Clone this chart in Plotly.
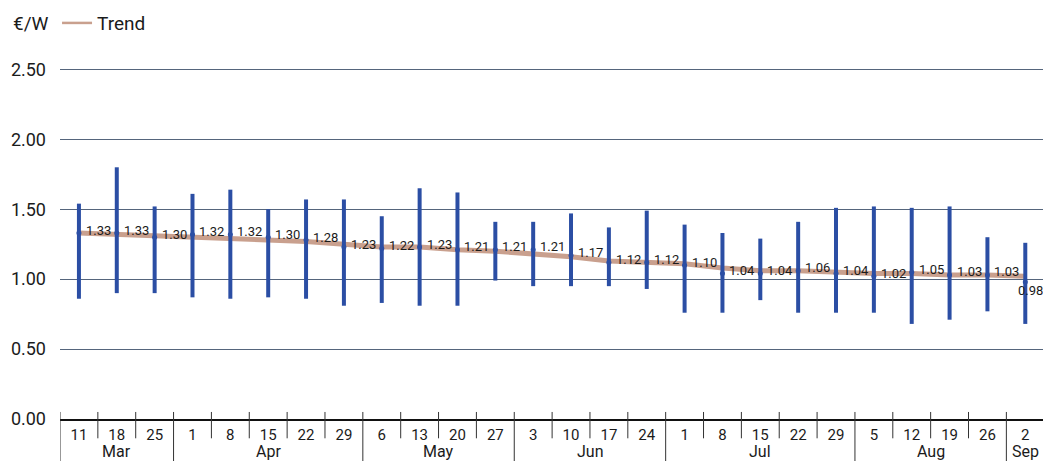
import plotly.graph_objects as go

# ---- data ----
months = ["Mar"] * 3 + ["Apr"] * 5 + ["May"] * 4 + ["Jun"] * 4 + ["Jul"] * 5 + ["Aug"] * 4 + ["Sep"]
days = [11, 18, 25, 1, 8, 15, 22, 29, 6, 13, 20, 27, 3, 10, 17, 24, 1, 8, 15, 22, 29, 5, 12, 19, 26, 2]
avg = [1.33, 1.33, 1.30, 1.32, 1.32, 1.30, 1.28, 1.23, 1.22, 1.23, 1.21, 1.21, 1.21,
       1.17, 1.12, 1.12, 1.10, 1.04, 1.04, 1.06, 1.04, 1.02, 1.05, 1.03, 1.03, 0.98]
high = [1.54, 1.80, 1.52, 1.61, 1.64, 1.50, 1.57, 1.57, 1.45, 1.65, 1.62, 1.41, 1.41,
        1.47, 1.37, 1.49, 1.39, 1.33, 1.29, 1.41, 1.51, 1.52, 1.51, 1.52, 1.30, 1.26]
low = [0.86, 0.90, 0.90, 0.87, 0.86, 0.87, 0.86, 0.81, 0.83, 0.81, 0.81, 0.99, 0.95,
       0.95, 0.95, 0.93, 0.76, 0.76, 0.85, 0.76, 0.76, 0.76, 0.68, 0.71, 0.77, 0.68]
trend = [1.33, 1.32, 1.31, 1.30, 1.29, 1.28, 1.27, 1.25, 1.23, 1.23, 1.21, 1.20, 1.18,
         1.16, 1.13, 1.12, 1.11, 1.08, 1.06, 1.06, 1.05, 1.04, 1.04, 1.03, 1.03, 1.02]
y_ticks = [0, 0.5, 1.0, 1.5, 2.0, 2.5]

# ---- styling ----
FONT = "Roboto, Liberation Sans, sans-serif"
BLUE = "#2b4ea4"
TREND = "#c9a08e"
GRID = "#55657c"
TXT = "#1b1b1b"

cats = [f"{m} {d}" for m, d in zip(months, days)]

fig = go.Figure()

# trend line (drawn first so the range bars sit over it)
fig.add_trace(go.Scatter(x=cats, y=trend, mode="lines",
                         line=dict(color=TREND, width=5), showlegend=False,
                         hoverinfo="skip"))
# legend entry (thin line as in the key)
fig.add_trace(go.Scatter(x=[cats[0]], y=[None], mode="lines", name="Trend",
                         line=dict(color=TREND, width=2.5), showlegend=True))
# range bars
fig.add_trace(go.Scatter(
    x=cats, y=low, mode="markers", marker=dict(size=1, color=BLUE, opacity=0),
    error_y=dict(type="data", symmetric=False,
                 array=[h - l for h, l in zip(high, low)],
                 arrayminus=[0] * len(low), color=BLUE, thickness=4, width=0),
    showlegend=False))
# mean dots
fig.add_trace(go.Scatter(x=cats, y=avg, mode="markers",
                         marker=dict(size=5, color=BLUE), showlegend=False))

annotations = []
n = len(cats)
for i, (c, v) in enumerate(zip(cats, avg)):
    last = i == n - 1
    annotations.append(dict(
        x=c, y=v, xref="x", yref="y", text=f"{v:.2f}", showarrow=False,
        xanchor="left", yanchor="middle",
        xshift=-9 if last else 5, yshift=-9 if last else 3,
        font=dict(family=FONT, size=13, color=TXT)))

# month labels
groups = []
for i, m in enumerate(months):
    if not groups or groups[-1][0] != m:
        groups.append([m, i, i])
    else:
        groups[-1][2] = i
for m, a, b in groups:
    annotations.append(dict(x=(a + b) / 2, y=-0.092, xref="x", yref="paper", text=m,
                            showarrow=False, xanchor="center", yanchor="middle",
                            font=dict(family=FONT, size=16, color=TXT)))

# unit label
annotations.append(dict(x=0, y=1.128, xref="paper", yref="paper", text="€/W",
                        showarrow=False, xanchor="right", xshift=-9, yanchor="middle",
                        font=dict(family=FONT, size=19, color=TXT)))

shapes = []
month_starts = {a for _, a, _ in groups}
for i in range(n):
    bottom = -0.125 if i in month_starts else -0.055
    shapes.append(dict(type="line", xref="x", yref="paper", x0=i - 0.5, x1=i - 0.5,
                       y0=0.02, y1=bottom, line=dict(color="#333333", width=1)))

# the page adds an 8px body margin, so the figure is 8px smaller than the window
fig.update_layout(
    width=1043, height=453,
    margin=dict(l=52, r=3, t=60, b=42, autoexpand=False),
    paper_bgcolor="white", plot_bgcolor="white",
    font=dict(family=FONT, color=TXT),
    showlegend=True,
    legend=dict(x=-0.003, y=1.128, xanchor="left", yanchor="middle",
                orientation="h", bgcolor="rgba(0,0,0,0)",
                font=dict(family=FONT, size=19, color=TXT),
                itemwidth=30),
    annotations=annotations, shapes=shapes,
    xaxis=dict(type="category", categoryorder="array", categoryarray=cats,
               tickmode="array", tickvals=cats, ticktext=[str(d) for d in days],
               ticks="", showgrid=False, showline=True, linecolor="#111111",
               linewidth=2, tickfont=dict(family=FONT, size=15, color=TXT),
               range=[-0.5, n - 0.5 + 0.1], ticklabelstandoff=1, automargin=False),
    yaxis=dict(range=[0, 2.51], tickvals=y_ticks, ticktext=[f"{t:.2f}" for t in y_ticks],
               showgrid=True, gridcolor=GRID, gridwidth=1, zeroline=False,
               showline=False, ticks="", ticklabelstandoff=13, automargin=False,
               tickfont=dict(family=FONT, size=18, color=TXT)),
)

fig.write_html("out.html")
